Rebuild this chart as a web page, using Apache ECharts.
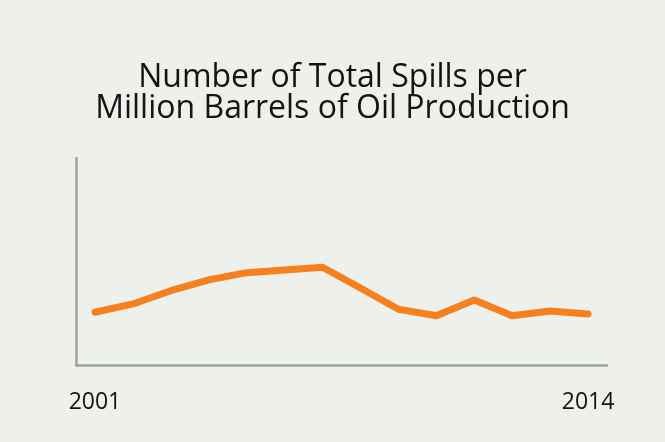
<!DOCTYPE html>
<html><head><meta charset="utf-8">
<script src="https://cdn.jsdelivr.net/npm/echarts@6/dist/echarts.min.js"></script>
<style>html,body{margin:0;padding:0;background:#eef1eb}#c{width:665px;height:442px}</style>
</head><body><div id="c"></div>
<script>
const years = ['2001','2002','2003','2004','2005','2006','2007','2008','2009','2010','2011','2012','2013','2014'];
const spills = [25.5, 29.5, 35.9, 41.1, 44.6, 45.9, 47.2, 37.2, 26.9, 23.8, 31.4, 23.8, 26.1, 24.6];
const titleText = 'Number of Total Spills per\nMillion Barrels of Oil Production';

const chart = echarts.init(document.getElementById('c'));
chart.setOption({
  backgroundColor: '#eef1eb',
  animation: false,
  title: {
    text: titleText,
    left: 'center',
    top: 57,
    textStyle: { fontFamily: 'Open Sans', fontWeight: 'normal', fontSize: 32, lineHeight: 31, color: '#141414' }
  },
  grid: { left: 76, right: 58, top: 158, bottom: 77 },
  xAxis: {
    type: 'category',
    data: years,
    boundaryGap: true,
    axisLine: { lineStyle: { color: '#9ca1a4', width: 2.5 } },
    axisTick: { show: false },
    axisLabel: {
      interval: (i) => i === 0 || i === years.length - 1,
      fontFamily: 'Open Sans', fontSize: 23, color: '#141414', margin: 26
    }
  },
  yAxis: {
    type: 'value',
    min: 0, max: 100,
    axisLine: { show: true, lineStyle: { color: '#9ca1a4', width: 2.5 } },
    axisTick: { show: false },
    axisLabel: { show: false },
    splitLine: { show: false }
  },
  series: [{
    type: 'line',
    data: spills,
    symbol: 'none',
    lineStyle: { color: '#f67f1e', width: 7, cap: 'round', join: 'round' }
  }]
});
</script></body></html>
